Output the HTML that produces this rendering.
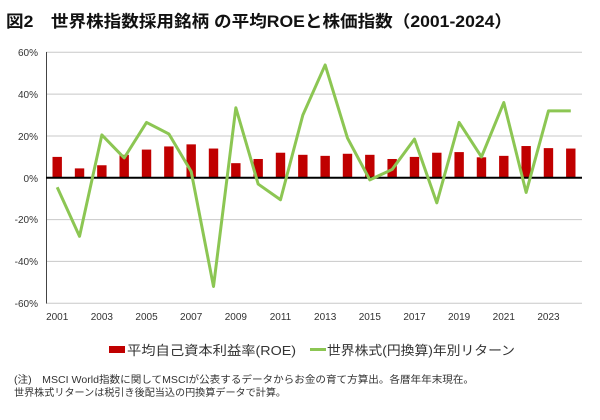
<!DOCTYPE html>
<html><head><meta charset="utf-8"><style>
body{margin:0;background:#fff;width:600px;height:415px;overflow:hidden;font-family:"Liberation Sans","Noto Sans CJK JP",sans-serif;}
</style></head><body>
<svg width="600" height="415" xmlns="http://www.w3.org/2000/svg" font-family="Liberation Sans, Noto Sans CJK JP, sans-serif">
<text x="6" y="27" font-size="16.5" font-weight="bold" fill="#111" textLength="506" lengthAdjust="spacingAndGlyphs">図2　世界株指数採用銘柄 の平均ROEと株価指数（2001-2024）</text>
<g stroke="#c8c8c8" stroke-width="1">
<line x1="46" x2="582" y1="52.3" y2="52.3"/><line x1="46" x2="582" y1="94.1" y2="94.1"/><line x1="46" x2="582" y1="136" y2="136"/>
<line x1="46" x2="582" y1="219.6" y2="219.6"/><line x1="46" x2="582" y1="261.4" y2="261.4"/><line x1="46" x2="582" y1="303.3" y2="303.3"/>
</g>
<line x1="46.5" x2="46.5" y1="52" y2="303.5" stroke="#444" stroke-width="1"/>
<g font-size="10" fill="#333" text-anchor="end">
<text x="38" y="56">60%</text><text x="38" y="98">40%</text><text x="38" y="140">20%</text><text x="38" y="182">0%</text>
<text x="38" y="223">-20%</text><text x="38" y="265">-40%</text><text x="38" y="307">-60%</text>
</g>
<g id="bars" fill="#c00000"></g>
<line x1="46" x2="582" y1="177.8" y2="177.8" stroke="#000" stroke-width="2"/>
<polyline id="ln" fill="none" stroke="#8cc653" stroke-width="3" stroke-linejoin="round"/>
<g id="xl" font-size="10" fill="#333" text-anchor="middle"></g>
<rect x="109" y="346" width="16" height="7" fill="#c00000"/>
<text x="127" y="355" font-size="13" fill="#333" textLength="169" lengthAdjust="spacingAndGlyphs">平均自己資本利益率(ROE)</text>
<line x1="310" x2="326" y1="349.5" y2="349.5" stroke="#8cc653" stroke-width="3"/>
<text x="327" y="355" font-size="13" fill="#333" textLength="188" lengthAdjust="spacingAndGlyphs">世界株式(円換算)年別リターン</text>
<text x="14" y="383" font-size="10" fill="#333" textLength="460" lengthAdjust="spacingAndGlyphs">(注)　MSCI World指数に関してMSCIが公表するデータからお金の育て方算出。各暦年年末現在。</text>
<text x="14" y="396" font-size="10" fill="#333" textLength="272" lengthAdjust="spacingAndGlyphs">世界株式リターンは税引き後配当込の円換算データで計算。</text>
</svg>
<script>
var roe=[10,4.5,6,11,13.5,15,16,14,7,9,12,11,10.5,11.5,11,9,10,12,12.3,9.8,10.5,15.2,14.2,14];
var ret=[-4.5,-28,20.5,9.5,26.5,21,3,-52,33.5,-3,-10.5,30,54,19,-1,4,18.5,-12,26.5,10,36,-7,32,32];
var ns="http://www.w3.org/2000/svg",b=document.getElementById("bars"),xl=document.getElementById("xl"),pts=[];
function Y(v){return 177.8-v*2.09;}
for(var i=0;i<24;i++){var cx=57.2+i*22.33;
var r=document.createElementNS(ns,"rect");r.setAttribute("x",cx-4.7);r.setAttribute("width",9.4);r.setAttribute("y",Y(roe[i]));r.setAttribute("height",177.8-Y(roe[i]));b.appendChild(r);
pts.push(cx+","+Y(ret[i]));
if(i%2==0){var t=document.createElementNS(ns,"text");t.setAttribute("x",cx);t.setAttribute("y",320);t.textContent=2001+i;xl.appendChild(t);}}
document.getElementById("ln").setAttribute("points",pts.join(" "));
</script>
</body></html>
